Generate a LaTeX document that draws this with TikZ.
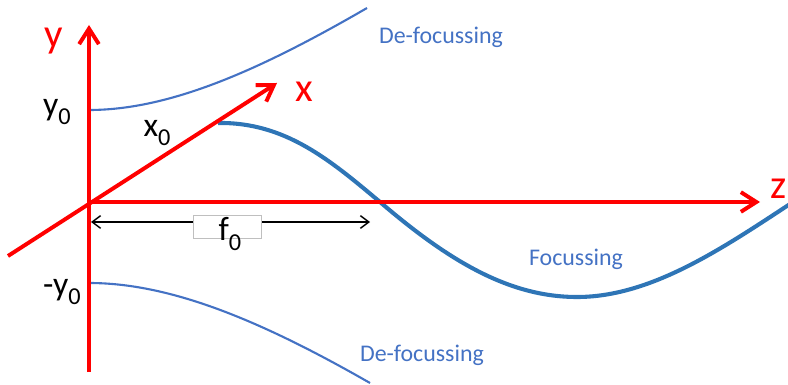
\documentclass[tikz,border=0pt]{standalone}
\usepackage{fontspec}
\setmainfont{Carlito}
\usepackage{xcolor}
\usetikzlibrary{arrows.meta}
\definecolor{axisred}{RGB}{255,0,0}
\definecolor{beamblue}{RGB}{68,114,196}
\definecolor{pathblue}{RGB}{46,117,182}
\newcommand{\lowidx}[1]{\raisebox{-0.27em}{\scalebox{0.72}{#1}}}

\begin{document}
\begin{tikzpicture}[x=0.025cm, y=-0.025cm,
    axis/.style = {draw=axisred, line width=2.8pt, -{Straight Barb[length=11pt, width=14pt]}},
    axlabel/.style = {text=axisred, font=\fontsize{29}{32}\selectfont, inner sep=0pt},
    marklabel/.style = {text=black, font=\fontsize{24}{27}\selectfont, inner sep=0pt},
    regionlabel/.style = {text=beamblue, font=\fontsize{17}{20}\selectfont, inner sep=0pt},
    thinbeam/.style = {draw=beamblue, line width=1.5pt},
    thickbeam/.style = {draw=pathblue, line width=2.9pt}]
    \useasboundingbox (0,0) rectangle (788,385);

    % 坐标定义
    \coordinate (o) at (89,202);
    \coordinate (ybot) at (89,372);
    \coordinate (ytop) at (89,25);
    \coordinate (zend) at (760,202);
    \coordinate (xbot) at (8,256);
    \coordinate (xtop) at (277,83);
    \coordinate (fl) at (91,222);
    \coordinate (fr) at (370,222);

    % 轨迹
    \draw[thinbeam] (89,110) .. controls (170,110) and (260,70) .. (367,8);
    \draw[thinbeam] (89,283) .. controls (170,283) and (260,320) .. (370,383);
    \draw[thickbeam] (218,123) .. controls (285,122) and (330,160) .. (380,202)
        .. controls (450,262) and (510,297) .. (577,297)
        .. controls (650,297) and (720,250) .. (790,204);

    % 坐标轴
    \draw[axis] (ybot) -- (ytop);
    \draw[axis] (o) -- (zend);
    \draw[axis] (xbot) -- (xtop);

    % 焦距
    \draw[black, line width=1pt, {Straight Barb[length=6pt, width=9pt]}-{Straight Barb[length=6pt, width=9pt]}] (fl) -- (fr);
    \node[draw=black!25, fill=white, minimum width=68*0.025cm, minimum height=23*0.025cm, inner sep=0pt] (fbox) at (227,226.5) {};
    \node[marklabel] (f0) at (230,234) {f\lowidx{0}};

    % 标签
    \node[axlabel] (ylbl) at (54,41) {y};
    \node[axlabel] (xlbl) at (304,92) {x};
    \node[axlabel] (zlbl) at (779,189) {z};
    \node[marklabel] (y0) at (57,112) {y\lowidx{0}};
    \node[marklabel] (x0) at (157,133) {x\lowidx{0}};
    \node[marklabel] (my0) at (62,292) {-y\lowidx{0}};
    \node[regionlabel] (defoc1) at (441,37) {De-focussing};
    \node[regionlabel] (foc) at (576,259) {Focussing};
    \node[regionlabel] (defoc2) at (422,355) {De-focussing};
\end{tikzpicture}
\end{document}
